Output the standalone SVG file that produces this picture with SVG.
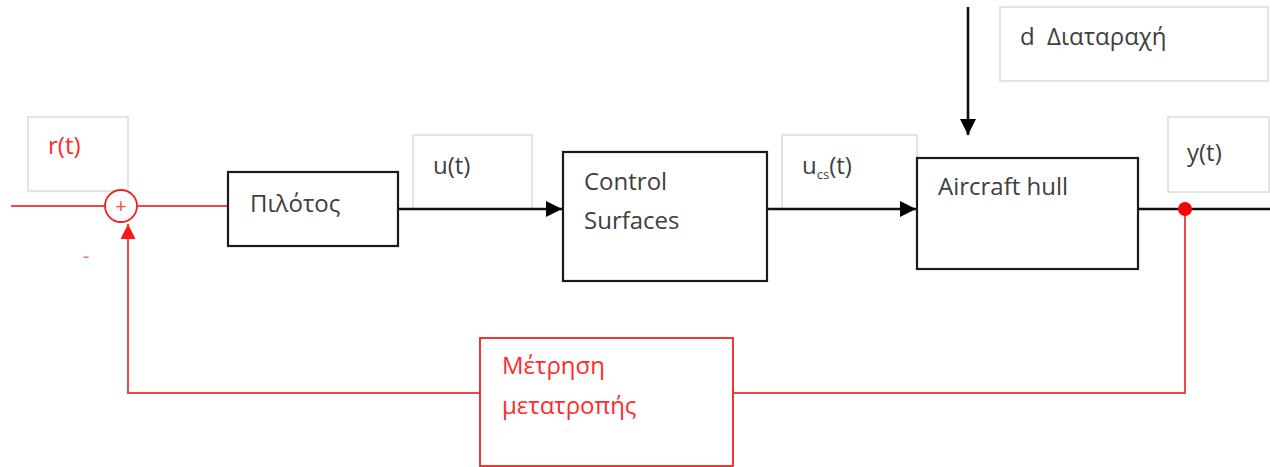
<svg xmlns="http://www.w3.org/2000/svg" width="1270" height="467" viewBox="0 0 1270 467">
<style>
.lbl{fill:#fff;stroke:#dcdcdc;stroke-width:1.5}
.blk{fill:#fff;stroke:#1a1a1a;stroke-width:2.2}
.red{fill:#fff;stroke:#ee2222;stroke-width:1.8}
.t{font-family:"Open Sans","Liberation Sans",sans-serif;font-size:24px;fill:#404040}
.tr{font-family:"Open Sans","Liberation Sans",sans-serif;font-size:24px;fill:#ff2a2a}
.wk{fill:none;stroke:#111;stroke-width:2.6}
.wr{fill:none;stroke:#f04848;stroke-width:2}
</style>
<defs>
<marker id="ab" viewBox="0 0 10 10" refX="10" refY="5" markerWidth="16" markerHeight="16" markerUnits="userSpaceOnUse" orient="auto"><path d="M0,0L10,5L0,10z" fill="#000"/></marker>
<marker id="ar" viewBox="0 0 10 10" refX="10" refY="5" markerWidth="15" markerHeight="15" markerUnits="userSpaceOnUse" orient="auto"><path d="M0,0L10,5L0,10z" fill="#ff1a1a"/></marker>
</defs>
<rect width="1270" height="467" fill="#fff"/>
<g id="label-r">
<rect class="lbl" x="28" y="117" width="100" height="74"/>
<text class="tr" x="48" y="154">r(t)</text>
</g>
<g id="label-u">
<rect class="lbl" x="413" y="135" width="119" height="74"/>
<text class="t" x="433" y="174">u(t)</text>
</g>
<g id="label-ucs">
<rect class="lbl" x="782" y="135" width="135" height="74"/>
<text class="t" x="802" y="174">u<tspan font-size="13" dy="5">cs</tspan><tspan dy="-5">(t)</tspan></text>
</g>
<g id="label-d">
<rect class="lbl" x="1000" y="7" width="268" height="74"/>
<text class="t" x="1020" y="45">d<tspan x="1047">Διαταραχή</tspan></text>
</g>
<g id="label-y">
<rect class="lbl" x="1168" y="117" width="101" height="75"/>
<text class="t" x="1187" y="161">y(t)</text>
</g>
<g id="connectors">
<line class="wr" x1="11" y1="206" x2="105" y2="206"/>
<line class="wr" x1="137" y1="206" x2="228" y2="206"/>
<line class="wk" x1="398" y1="209" x2="562" y2="209" marker-end="url(#ab)"/>
<line class="wk" x1="767" y1="209" x2="916" y2="209" marker-end="url(#ab)"/>
<line class="wk" x1="968" y1="7" x2="968" y2="135" marker-end="url(#ab)"/>
<line class="wk" x1="1138" y1="209" x2="1270" y2="209"/>
<polyline class="wr" points="1185,209 1185,393 733,393"/>
<polyline class="wr" points="480,393 128,393 128,224" marker-end="url(#ar)"/>
<circle cx="1185" cy="209" r="7" fill="#ff0000"/>
</g>
<g id="sum">
<circle cx="121" cy="206" r="16" fill="#fff" stroke="#ee2222" stroke-width="1.8"/>
<text x="121" y="213" text-anchor="middle" font-family="Open Sans, Liberation Sans, sans-serif" font-size="20" fill="#ff4444">+</text>
<text x="86" y="263" text-anchor="middle" font-family="Open Sans, Liberation Sans, sans-serif" font-size="22" fill="#f08080">-</text>
</g>
<g id="pilot">
<rect class="blk" x="228" y="172" width="170" height="74"/>
<text class="t" x="250" y="212">Πιλότος</text>
</g>
<g id="control-surfaces">
<rect class="blk" x="563" y="152" width="204" height="129"/>
<text class="t" x="584" y="190">Control</text>
<text class="t" x="584" y="229">Surfaces</text>
</g>
<g id="aircraft-hull">
<rect class="blk" x="917" y="158" width="221" height="111"/>
<text class="t" x="938" y="195">Aircraft hull</text>
</g>
<g id="measurement">
<rect class="red" x="480" y="338" width="253" height="128"/>
<text class="tr" x="502" y="374">Μέτρηση</text>
<text class="tr" x="502" y="414">μετατροπής</text>
</g>
</svg>
